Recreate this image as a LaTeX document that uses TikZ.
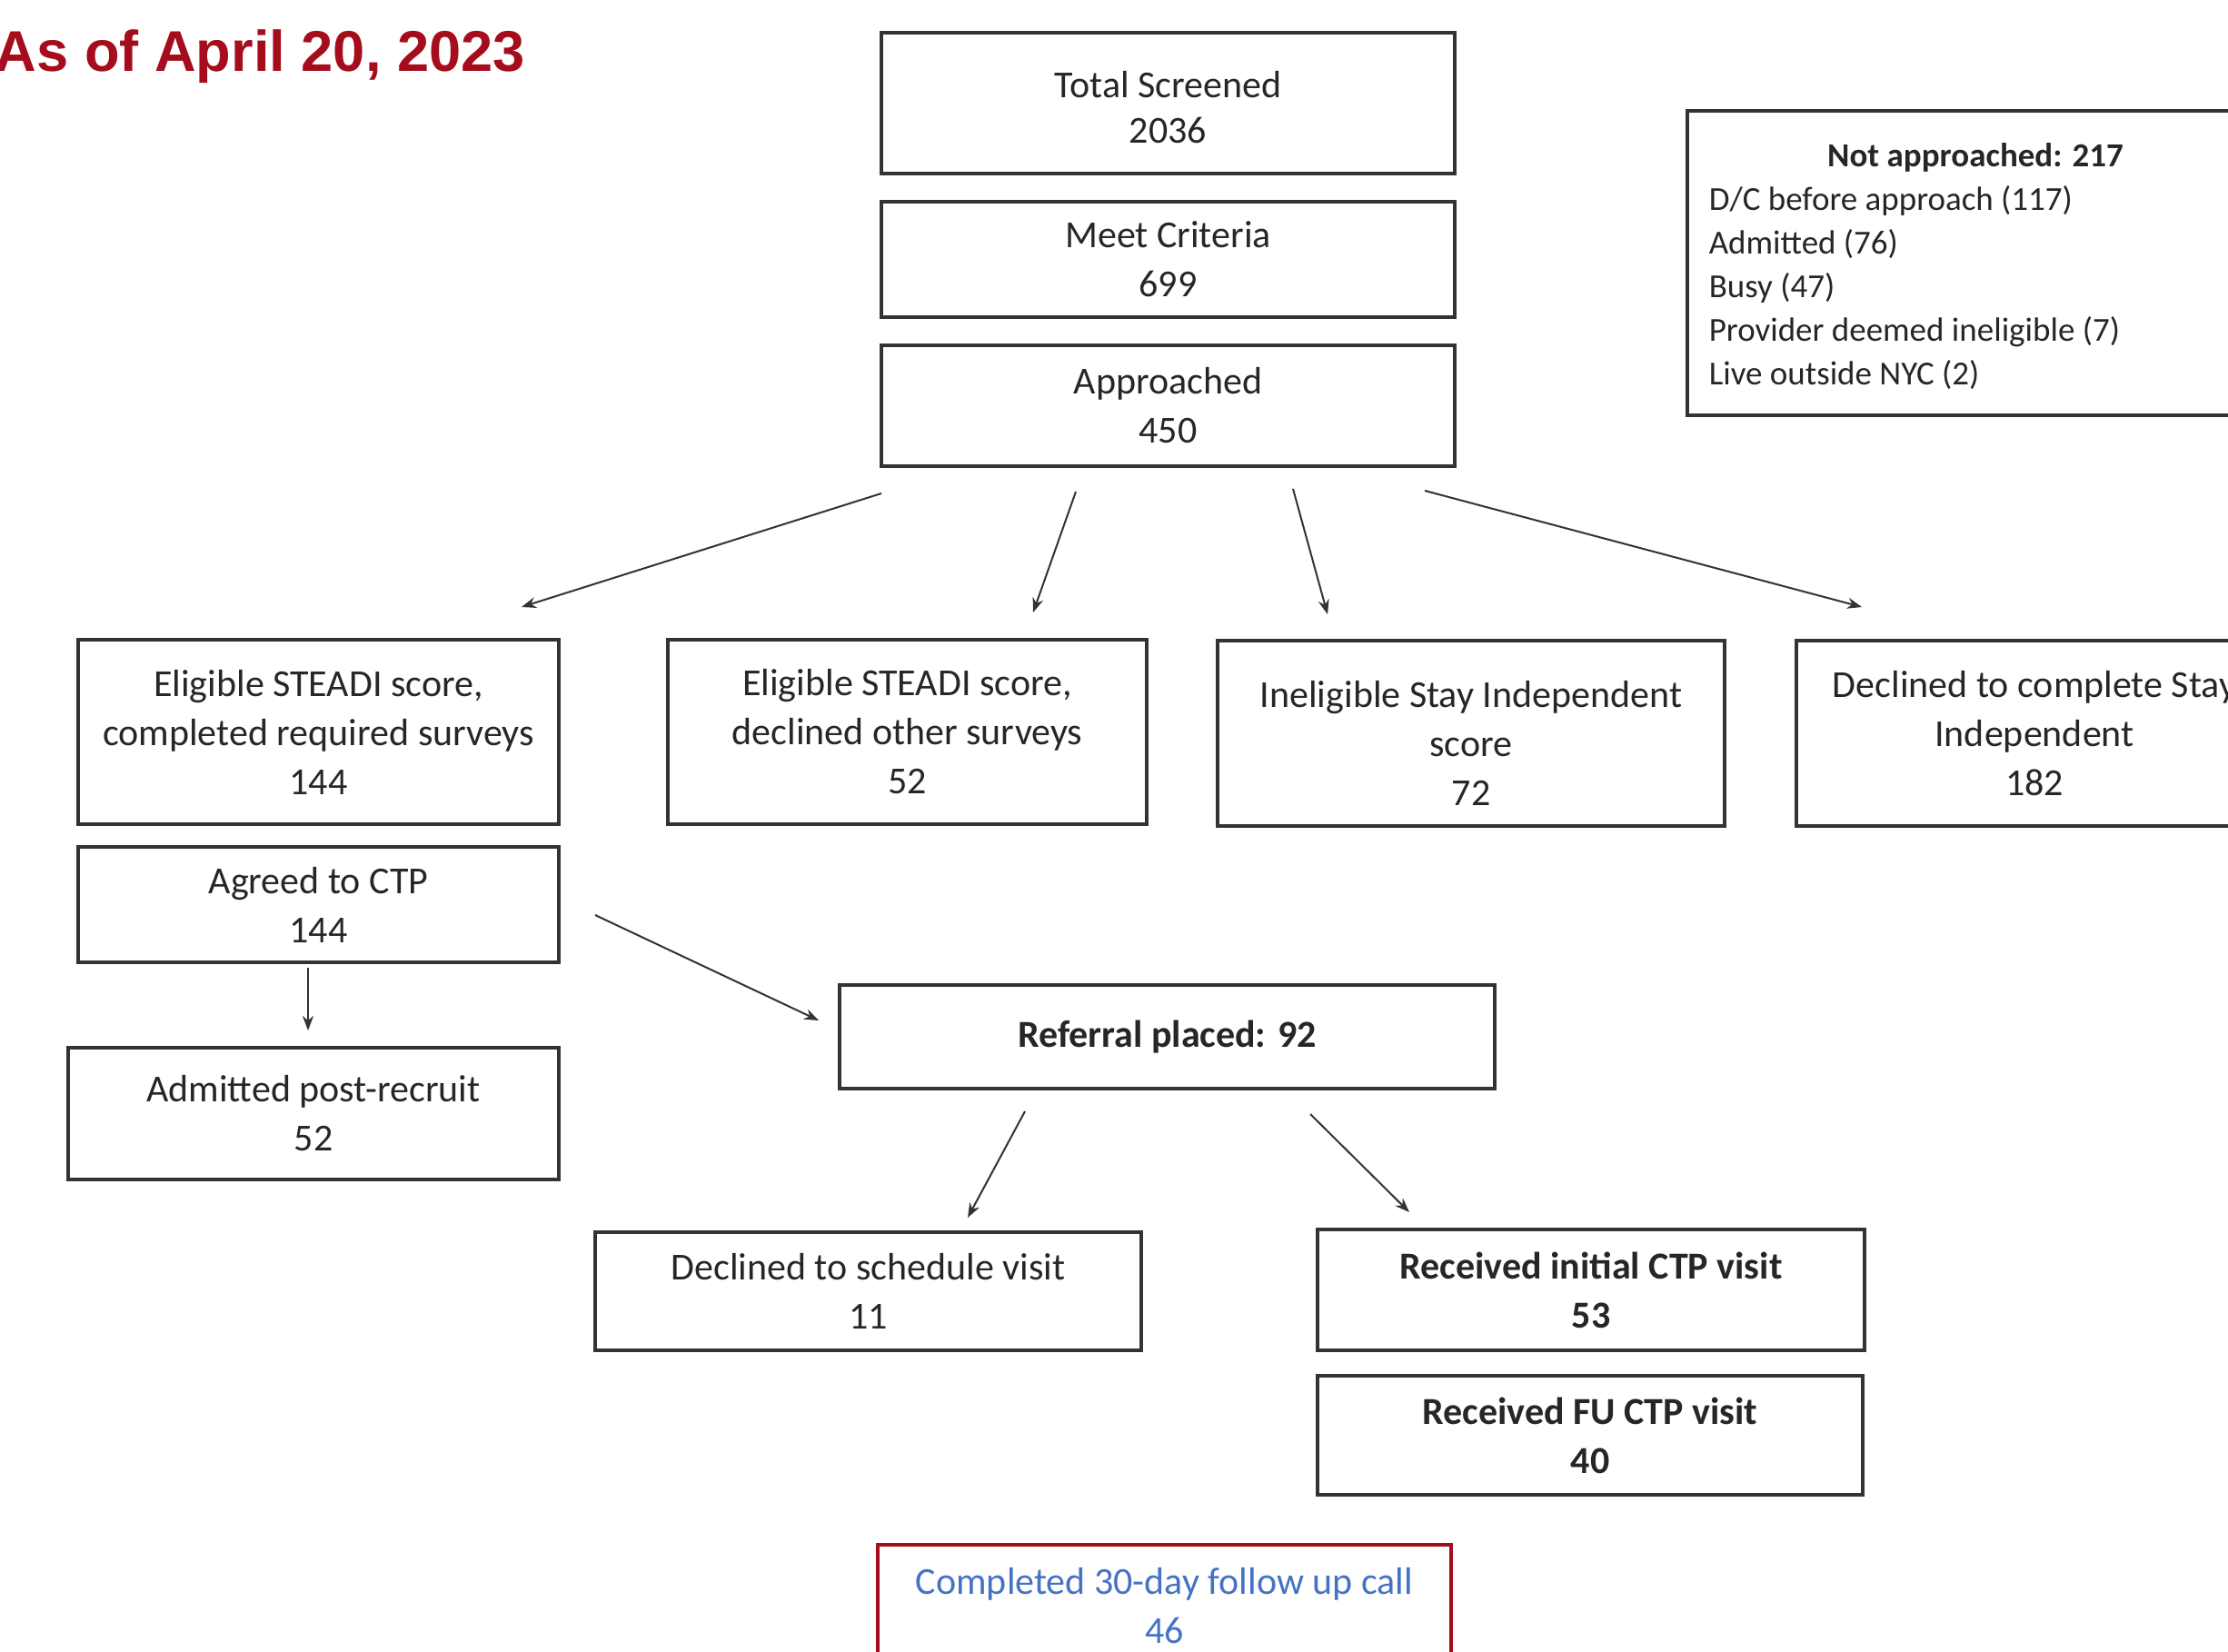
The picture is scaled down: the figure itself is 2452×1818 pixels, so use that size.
\documentclass[tikz,border=0pt]{standalone}
\usepackage{fontspec}
\setmainfont{Carlito}
\newfontfamily\headfont{Liberation Sans}
\usetikzlibrary{arrows.meta}
\definecolor{ink}{HTML}{262626}
\definecolor{edge}{HTML}{333333}
\definecolor{maroon}{RGB}{165,12,28}
\definecolor{linkblue}{HTML}{4472C4}
\tikzset{
  box/.style={draw=edge, line width=1.1pt, rectangle, inner sep=0pt, align=center,
    text=ink, font=\fontsize{10.5}{13.5}\selectfont},
  boxtext/.style={inner sep=0pt, align=center, text=ink, font=\fontsize{10.5}{13.5}\selectfont},
  flow/.style={draw=edge, line width=0.5pt, -{Stealth[length=4pt,width=3pt]}},
}
\begin{document}
\begin{tikzpicture}[x=0.25pt,y=-0.25pt]
\useasboundingbox (0,0) rectangle (2452,1818);
\clip (0,0) rectangle (2452,1818);

% heading
\node[anchor=base west, inner sep=0pt, text=maroon, font=\headfont\bfseries\fontsize{15.8}{19}\selectfont]
  (heading) at (-6,79) {As of April 20, 2023};

% main column
\node[box, minimum width=157.75pt, minimum height=38.75pt, font=\fontsize{10.5}{12.5}\selectfont] (total) at (1285.5,113.5) {};
\node[boxtext, font=\fontsize{10.5}{12.5}\selectfont] (totaltext) at (1285.5,118) {Total Screened\\2036};
\node[box, minimum width=157.75pt, minimum height=31.75pt] (meet) at (1285.5,285.5) {Meet Criteria\\699};
\node[box, minimum width=157.75pt, minimum height=33.25pt] (appr) at (1285.5,446.5) {Approached\\450};

% side box with breakdown
\node[box, minimum width=158.25pt, minimum height=83.75pt] (notappr) at (2173.5,289.5) {};
\node[anchor=base, inner sep=0pt, text=ink, font=\bfseries\fontsize{9.25}{12}\selectfont]
  (notapprhead) at (2174,184) {Not approached: 217};
\node[anchor=north west, inner sep=0pt, align=left, text=ink, font=\fontsize{9.25}{12}\selectfont]
  (notapprlist) at (1880,204) {D/C before approach (117)\\Admitted (76)\\Busy (47)\\Provider deemed ineligible (7)\\Live outside NYC (2)};

% outcomes of approach
\node[box, minimum width=132.25pt, minimum height=50.75pt] (eligA) at (350.5,805.5) {Eligible STEADI score,\\completed required surveys\\144};
\node[box, minimum width=131.75pt, minimum height=50.75pt] (eligB) at (998.5,805.5) {Eligible STEADI score,\\declined other surveys\\52};
\node[box, minimum width=139.5pt, minimum height=51pt] (inelig) at (1619,807) {};
\node[boxtext] (ineligtext) at (1619,818) {Ineligible Stay Independent\\score\\72};
\node[box, minimum width=131pt, minimum height=51pt] (declSI) at (2239,807) {Declined to complete Stay\\Independent\\182};

% left branch
\node[box, minimum width=132.25pt, minimum height=31.75pt] (agreed) at (350.5,995.5) {Agreed to CTP\\144};
\node[box, minimum width=135pt, minimum height=36.25pt] (admitted) at (345,1225.5) {Admitted post-recruit\\52};

% referral branch
\node[box, minimum width=180.25pt, minimum height=28.5pt, font=\bfseries\fontsize{10.5}{13.5}\selectfont] (referral) at (1284.5,1141) {Referral placed: 92};
\node[box, minimum width=150.25pt, minimum height=32.5pt] (declvisit) at (955.5,1421) {Declined to schedule visit\\11};
\node[box, minimum width=150.5pt, minimum height=33.25pt, font=\bfseries\fontsize{10.5}{13.5}\selectfont] (initial) at (1751,1419.5) {Received initial CTP visit\\53};
\node[box, minimum width=150pt, minimum height=32.75pt, font=\bfseries\fontsize{10.5}{13.5}\selectfont] (fuvisit) at (1750,1579.5) {Received FU CTP visit\\40};
\node[box, draw=maroon, text=linkblue, minimum width=157.75pt, minimum height=33.5pt] (followup) at (1281.5,1767) {Completed 30-day follow up call\\46};

% free-standing arrows
\coordinate (s1) at (970,543);  \coordinate (e1) at (574,668);
\coordinate (s2) at (1184,541); \coordinate (e2) at (1137,674);
\coordinate (s3) at (1423,538); \coordinate (e3) at (1461,676);
\coordinate (s4) at (1568,540); \coordinate (e4) at (2049,668);
\coordinate (s5) at (339,1065); \coordinate (e5) at (339,1134);
\coordinate (s6) at (655,1007); \coordinate (e6) at (901,1123);
\coordinate (s7) at (1128,1223); \coordinate (e7) at (1065,1340);
\coordinate (s8) at (1442,1226); \coordinate (e8) at (1551,1334);
\foreach \i in {1,...,8} { \draw[flow] (s\i) -- (e\i); }
\end{tikzpicture}
\end{document}
